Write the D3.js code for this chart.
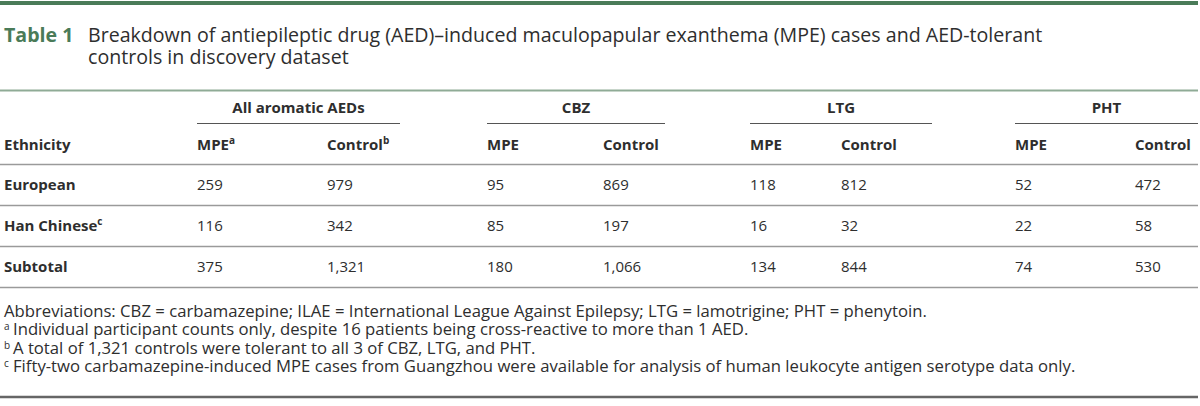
<!DOCTYPE html>
<html>
<head>
<meta charset="utf-8">
<script src="https://cdn.jsdelivr.net/npm/d3@7"></script>
<style>
  body { margin: 0; background: #fff; }
  text { font-family: "Open Sans", sans-serif; fill: #2e2e2e; }
</style>
</head>
<body>
<svg id="tbl" width="1200" height="406"></svg>
<script>
// table content
var ethnicities = ["European", "Han Chinese", "Subtotal"];
var ethSup = ["", "c", ""];
var drugs = ["All aromatic AEDs", "CBZ", "LTG", "PHT"];
var colKeys = ["allMpe", "allCtl", "cbzMpe", "cbzCtl", "ltgMpe", "ltgCtl", "phtMpe", "phtCtl"];
var colLabels = ["MPE", "Control", "MPE", "Control", "MPE", "Control", "MPE", "Control"];
var colSup = ["a", "b", "", "", "", "", "", ""];
var allMpe = [259, 116, 375];
var allCtl = [979, 342, 1321];
var cbzMpe = [95, 85, 180];
var cbzCtl = [869, 197, 1066];
var ltgMpe = [118, 16, 134];
var ltgCtl = [812, 32, 844];
var phtMpe = [52, 22, 74];
var phtCtl = [472, 58, 530];
var fnMarks = ["", "a", "b", "c"];
var fnTexts = [
  "Abbreviations: CBZ = carbamazepine; ILAE = International League Against Epilepsy; LTG = lamotrigine; PHT = phenytoin.",
  "Individual participant counts only, despite 16 patients being cross-reactive to more than 1 AED.",
  "A total of 1,321 controls were tolerant to all 3 of CBZ, LTG, and PHT.",
  "Fifty-two carbamazepine-induced MPE cases from Guangzhou were available for analysis of human leukocyte antigen serotype data only."
];

var values = { allMpe: allMpe, allCtl: allCtl, cbzMpe: cbzMpe, cbzCtl: cbzCtl,
  ltgMpe: ltgMpe, ltgCtl: ltgCtl, phtMpe: phtMpe, phtCtl: phtCtl };

var svg = d3.select("#tbl");
var green = "#4a7b58";
var fmt = function (v) { return v >= 1000 ? d3.format(",")(v) : String(v); };

// column positions
var x = d3.scaleOrdinal().domain(colKeys)
  .range([197, 327, 487, 603, 750, 841, 1015, 1135]);
var groupX = d3.scaleOrdinal().domain(drugs).range([[197, 400], [487, 665], [750, 932], [1015, 1198]]);
var y = d3.scaleBand().domain(ethnicities).range([164, 287]);
var fy = d3.scaleBand().domain(d3.range(fnTexts.length)).range([302, 376]);

// top bar
svg.append("rect").attr("x", 0).attr("y", 1).attr("width", 1198).attr("height", 4).attr("fill", green);

// title
var title = svg.append("g");
title.append("text").attr("x", 4).attr("y", 42)
  .style("font-size", "19.6px").style("font-weight", 700).style("fill", green)
  .text("Table 1");
title.append("text").attr("x", 88).attr("y", 42).style("font-size", "19.6px")
  .text("Breakdown of antiepileptic drug (AED)\u2013induced maculopapular exanthema (MPE) cases and AED-tolerant");
title.append("text").attr("x", 88).attr("y", 64).style("font-size", "19.6px")
  .text("controls in discovery dataset");

// header rule
svg.append("line").attr("x1", 0).attr("x2", 1198).attr("y1", 90.5).attr("y2", 90.5)
  .attr("stroke", "#8fab96").attr("stroke-width", 2);

// group headers
var grp = svg.selectAll(".grp").data(drugs).enter().append("g");
grp.append("text")
  .attr("x", function (d) { var r = groupX(d); return (r[0] + r[1]) / 2; })
  .attr("y", 113).attr("text-anchor", "middle")
  .style("font-size", "15px").style("font-weight", 700)
  .text(function (d) { return d; });
grp.append("line")
  .attr("x1", function (d) { return groupX(d)[0]; })
  .attr("x2", function (d) { return groupX(d)[1]; })
  .attr("y1", 123.5).attr("y2", 123.5)
  .attr("stroke", "#555").attr("stroke-width", 1.2);

// sub headers
svg.append("text").attr("x", 4).attr("y", 150)
  .style("font-size", "15px").style("font-weight", 700).text("Ethnicity");
var sub = svg.selectAll(".sub").data(colKeys).enter().append("text")
  .attr("x", function (d) { return x(d); }).attr("y", 150)
  .style("font-size", "15px").style("font-weight", 700);
sub.append("tspan").text(function (d, i) { return colLabels[i]; });
sub.append("tspan").attr("dy", -6).style("font-size", "10px")
  .text(function (d, i) { return colSup[i]; });

// row rules
var rules = [164].concat(ethnicities.map(function (e) { return y(e) + y.bandwidth(); }));
svg.selectAll(".rule").data(rules).enter().append("line")
  .attr("x1", 0).attr("x2", 1198)
  .attr("y1", function (d) { return d + 0.5; }).attr("y2", function (d) { return d + 0.5; })
  .attr("stroke", "#9a9a9a").attr("stroke-width", 1.5);

// body rows
var row = svg.selectAll(".row").data(ethnicities).enter().append("g")
  .attr("transform", function (d) { return "translate(0," + (y(d) + y.bandwidth() / 2 + 5) + ")"; });
var lab = row.append("text").attr("x", 4)
  .style("font-size", "15px").style("font-weight", 700);
lab.append("tspan").text(function (d) { return d; });
lab.append("tspan").attr("dy", -6).style("font-size", "10px")
  .text(function (d, i) { return ethSup[i]; });
row.each(function (d, i) {
  d3.select(this).selectAll(".cell").data(colKeys).enter().append("text")
    .attr("x", function (k) { return x(k); })
    .style("font-size", "15px")
    .text(function (k) { return fmt(values[k][i]); });
});

// footnotes
var fn = svg.selectAll(".fn").data(fnTexts).enter().append("g")
  .attr("transform", function (d, i) { return "translate(0," + (fy(i) + fy.bandwidth() / 2 + 5.5) + ")"; });
fn.append("text").attr("x", 4).attr("y", -5)
  .style("font-size", "10px")
  .text(function (d, i) { return fnMarks[i]; });
fn.append("text")
  .attr("x", function (d, i) { return fnMarks[i] ? 13 : 4; })
  .style("font-size", "16.7px")
  .text(function (d) { return d; });

// bottom rule
svg.append("line").attr("x1", 0).attr("x2", 1198).attr("y1", 397).attr("y2", 397)
  .attr("stroke", "#666").attr("stroke-width", 2.5);
</script>
</body>
</html>
